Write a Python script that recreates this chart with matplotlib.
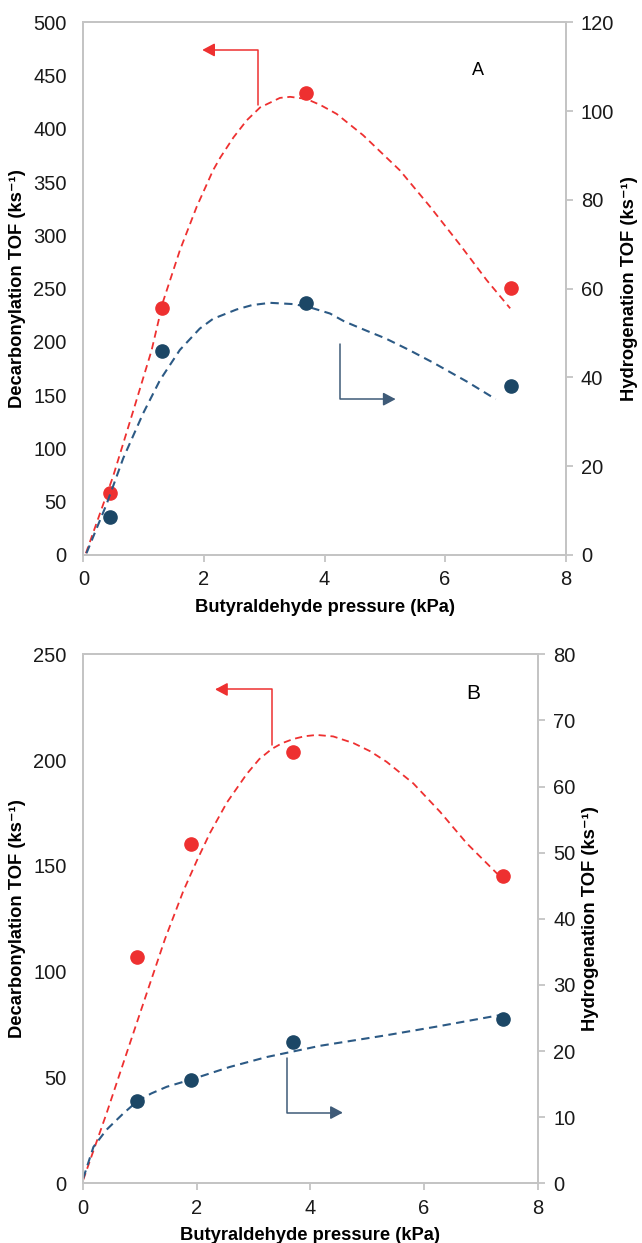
import matplotlib

matplotlib.use("Agg")
import matplotlib.pyplot as plt

plt.rcParams["font.family"] = ["Liberation Sans", "DejaVu Sans"]

RED = "#ee3030"
BLUE = "#1c4766"
BLUE_LINE = "#2c5a85"
ARROW_BLUE = "#3f5b78"
SPINE = "#c4c4c4"

# ---- panel A -------------------------------------------------------------
a_p = [0.44, 1.30, 3.70, 7.10]            # butyraldehyde pressure (kPa)
a_decarb = [57.9, 231.5, 433.3, 250.3]     # decarbonylation TOF (ks-1), left axis
a_hydro = [8.5, 46.0, 56.7, 38.0]          # hydrogenation TOF (ks-1), right axis

# dashed fit curves
a_decarb_fit_x = [0.04, 0.49, 0.83, 1.13, 1.32, 1.60, 1.88, 2.15, 2.27, 2.49,
                  2.71, 2.93, 3.26, 3.43, 3.70, 3.93, 4.20, 4.64, 5.25, 5.75,
                  6.25, 6.69, 7.08]
a_decarb_fit_y = [1.6, 73.5, 136, 192, 237.7, 286, 327, 361, 373, 392,
                  408, 420, 429, 430, 428, 422.4, 414, 394, 361, 327,
                  291, 258, 231.5]
a_hydro_fit_x = [0.05, 0.385, 0.66, 0.99, 1.27, 1.60, 1.93, 2.15, 2.54, 2.80,
                 3.10, 3.50, 3.80, 4.09, 4.33, 4.70, 5.01, 5.40, 5.82, 6.37, 6.84]
a_hydro_fit_y = [0.4, 11.5, 21.8, 31.9, 39.4, 46.2, 51.0, 53.2, 55.3, 56.3,
                 56.8, 56.5, 55.6, 54.4, 52.6, 50.5, 48.8, 46.2, 43.2, 39.0, 35.1]

# ---- panel B -------------------------------------------------------------
b_p = [0.95, 1.89, 3.70, 7.39]
b_decarb = [107.1, 160.2, 203.7, 145.2]
b_hydro = [12.45, 15.6, 21.3, 24.8]

b_decarb_fit_x = [0.0, 0.41, 0.77, 1.12, 1.44, 1.76, 2.00, 2.23, 2.53, 2.88,
                  3.10, 3.32, 3.50, 3.70, 3.90, 4.11, 4.40, 4.76, 5.05, 5.34,
                  5.81, 6.28, 6.75, 7.28, 7.39]
b_decarb_fit_y = [1.6, 33, 62, 90, 115.5, 138, 152.5, 165.5, 180, 193.5,
                  200.5, 205.3, 208, 210, 211.3, 211.9, 211.2, 208, 204.2, 199.2,
                  189, 175.6, 160.7, 146.5, 145.0]
b_hydro_fit_x = [0.0, 0.18, 0.41, 0.71, 0.95, 1.20, 1.47, 1.90, 2.58, 3.23,
                 4.17, 5.34, 6.22, 7.34]
b_hydro_fit_y = [0.75, 5.5, 8.1, 10.6, 12.4, 13.6, 14.6, 15.7, 17.6, 19.1,
                 20.8, 22.4, 23.7, 25.45]

X_TICKS = [0, 2, 4, 6, 8]


def style_axes(ax, ax2):
    for a in (ax, ax2):
        for s in a.spines.values():
            s.set_color(SPINE)
            s.set_linewidth(1.3)
        a.tick_params(labelsize=14.5, colors="#1a1a1a")
    ax.tick_params(axis="y", length=0, pad=12)
    ax.tick_params(axis="x", length=5, color=SPINE, width=1.3, pad=6)
    ax2.tick_params(axis="y", length=5, color=SPINE, width=1.3, pad=6)
    ax.set_xlim(0, 8)
    ax.set_xticks(X_TICKS)
    ax.set_xlabel("Butyraldehyde pressure (kPa)", fontsize=13.2, fontweight="bold",
                  labelpad=7)
    ax.set_ylabel("Decarbonylation TOF (ks\u207b\u00b9)", fontsize=13.2,
                  fontweight="bold", labelpad=5)
    ax2.set_ylabel("Hydrogenation TOF (ks\u207b\u00b9)", fontsize=13.2,
                   fontweight="bold", labelpad=5)


def elbow(ax, start, tip, color):
    ax.annotate("", xy=tip, xytext=start,
                arrowprops=dict(arrowstyle="-|>,head_length=0.75,head_width=0.4",
                                connectionstyle="angle,angleA=90,angleB=0,rad=0",
                                color=color, lw=1.1, shrinkA=0, shrinkB=0,
                                mutation_scale=10))


def panel(rect, p, dec, hyd, dfx, dfy, hfx, hfy, ylim_l, ylim_r, yt_l, yt_r,
          letter, letter_xy, letter_size, red_arrow, blue_arrow):
    ax = fig.add_axes(rect)
    ax2 = ax.twinx()
    ax.plot(dfx, dfy, color=RED, lw=1.3, ls=(0, (4, 2.6)), zorder=2)
    ax.plot(p, dec, "o", color=RED, ms=9.5, zorder=3)
    ax2.plot(hfx, hfy, color=BLUE_LINE, lw=1.5, ls=(0, (4, 2.6)), zorder=2)
    ax2.plot(p, hyd, "o", color=BLUE, ms=9.5, zorder=3)
    ax.set_ylim(*ylim_l)
    ax.set_yticks(yt_l)
    ax2.set_ylim(*ylim_r)
    ax2.set_yticks(yt_r)
    style_axes(ax, ax2)
    ax.text(*letter_xy, letter, fontsize=letter_size, ha="center", va="center")
    elbow(ax, *red_arrow, RED)
    elbow(ax2, *blue_arrow, ARROW_BLUE)
    return ax, ax2


fig = plt.figure(figsize=(6.42, 12.43), dpi=100)

panel([0.130, 0.5535, 0.751, 0.4286], a_p, a_decarb, a_hydro,
      a_decarb_fit_x, a_decarb_fit_y, a_hydro_fit_x, a_hydro_fit_y,
      (0, 500), (0, 120), range(0, 501, 50), range(0, 121, 20),
      "A", (6.55, 455), 13,
      ((2.90, 422), (1.97, 474)), ((4.26, 47.5), (5.18, 35.1)))

panel([0.1296, 0.048, 0.708, 0.4256], b_p, b_decarb, b_hydro,
      b_decarb_fit_x, b_decarb_fit_y, b_hydro_fit_x, b_hydro_fit_y,
      (0, 250), (0, 80), range(0, 251, 50), range(0, 81, 10),
      "B", (6.86, 231.6), 15,
      ((3.32, 207.1), (2.32, 233.4)), ((3.59, 18.9), (4.57, 10.7)))

fig.savefig("out.png", dpi=100)
